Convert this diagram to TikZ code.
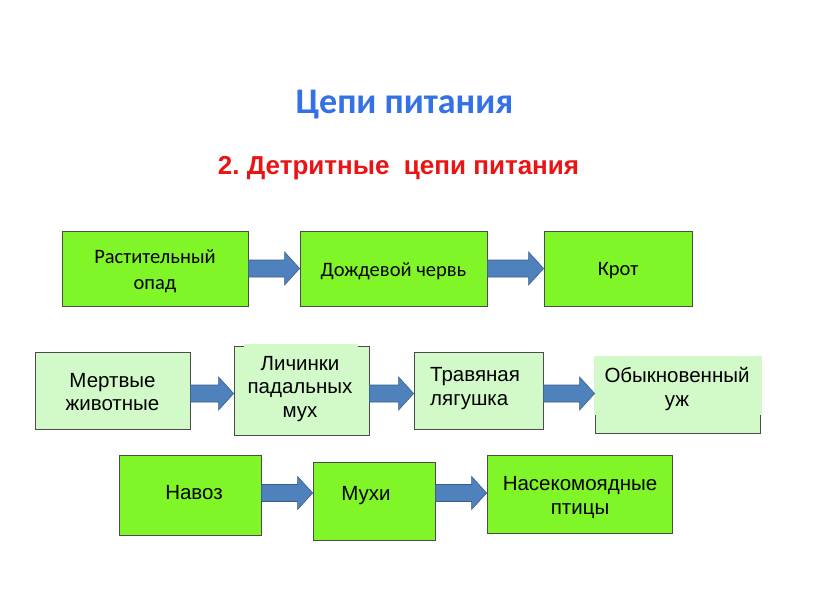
\documentclass[tikz,border=0pt]{standalone}
\usepackage{fontspec}
\setmainfont{Liberation Sans}
\newfontfamily\calibri{Carlito}
\usetikzlibrary{calc}
\definecolor{bgreen}{RGB}{128,246,40}
\definecolor{lgreen}{RGB}{210,250,200}
\definecolor{abl}{RGB}{79,129,189}
\definecolor{abd}{RGB}{56,93,138}
\definecolor{tblue}{RGB}{52,112,230}
\definecolor{tred}{RGB}{235,20,20}
\definecolor{bord}{RGB}{75,75,75}
\frenchspacing
\begin{document}
\begin{tikzpicture}[x=1pt,y=-1pt,
  boxg/.style={draw=bord, line width=0.8pt, fill=bgreen, inner sep=0pt},
  boxl/.style={draw=bord, line width=0.8pt, fill=lgreen, inner sep=0pt},
  tcal/.style={align=center, font=\calibri\fontsize{20.5}{26}\selectfont},
  tari/.style={align=center, font=\fontsize{20.5}{23.5}\selectfont},
  fatarrow/.style={fill=abl, draw=abd, line width=0.6pt,
    to path={let \p1=(\tikztostart), \p2=(\tikztotarget) in
      (\x1,\y1-8.5pt) -- (\x2-15pt,\y1-8.5pt) -- (\x2-15pt,\y1-16.5pt) -- (\x2,\y1)
      -- (\x2-15pt,\y1+16.5pt) -- (\x2-15pt,\y1+8.5pt) -- (\x1,\y1+8.5pt) -- cycle}}]
\useasboundingbox[fill=white] (0,0) rectangle (816,613);

% titles
\node[text=tblue, font=\calibri\bfseries\fontsize{36}{40}\selectfont] (title) at (404.5,105) {Цепи питания};
\node[text=tred, font=\bfseries\fontsize{26}{30}\selectfont] (sub) at (398.5,168) {2.\ Детритные\ \ цепи питания};

% row 1
\node[boxg, minimum width=186, minimum height=75] (a1) at (155,268.5) {};
\node[tcal] (a1t) at (155,271.5) {Растительный\\опад};
\node[boxg, minimum width=187, minimum height=75] (a2) at (393.5,268.5) {};
\node[tcal] (a2t) at (393.5,271) {Дождевой червь};
\node[boxg, minimum width=148, minimum height=75] (a3) at (618,268.5) {};
\node[tcal] (a3t) at (618,271) {Крот};
\draw[fatarrow] (a1.east) to (a2.west);
\draw[fatarrow] (a2.east) to (a3.west);

% row 2
\node[boxl, minimum width=155, minimum height=77] (b1) at (112.5,390.5) {};
\node[tari] (b1t) at (112.5,392) {Мертвые\\животные};
\node[boxl, minimum width=135, minimum height=89] (b2) at (301.5,390.5) {};
\fill[lgreen] (244,344.4) rectangle (358,347.6);
\node[tari] (b2t) at (300,389) {Личинки\\падальных\\мух};
\node[boxl, minimum width=129, minimum height=77] (b3) at (478.5,390.5) {};
\node[tari, align=left, anchor=west, inner sep=0pt] (b3t) at (430,388.5) {Травяная\\лягушка};
\node[boxl, minimum width=165, minimum height=76] (b4) at (677.5,395) {};
\fill[lgreen] (594,356) rectangle (762,415);
\node[tari] (b4t) at (677,389) {Обыкновенный\\уж};
\draw[fatarrow] ([yshift=-3pt]b1.east) to (b2.west);
\draw[fatarrow] ([yshift=-3pt]b2.east) to (b3.west);
\draw[fatarrow] ([yshift=-3pt]b3.east) to (b4.west);

% row 3
\node[boxg, minimum width=142, minimum height=80] (c1) at (190,495) {};
\node[tari] (c1t) at (194,493) {Навоз};
\node[boxg, minimum width=122, minimum height=78] (c2) at (374,501) {};
\node[tari] (c2t) at (366,496) {Мухи};
\node[boxg, minimum width=185, minimum height=78] (c3) at (579.5,494) {};
\node[tari, font=\fontsize{20.5}{24}\selectfont] (c3t) at (580,497) {Насекомоядные\\птицы};
\draw[fatarrow] ([yshift=2pt]c1.east) to (c2.west);
\draw[fatarrow] ([yshift=8pt]c2.east) to (c3.west);
\end{tikzpicture}
\end{document}
